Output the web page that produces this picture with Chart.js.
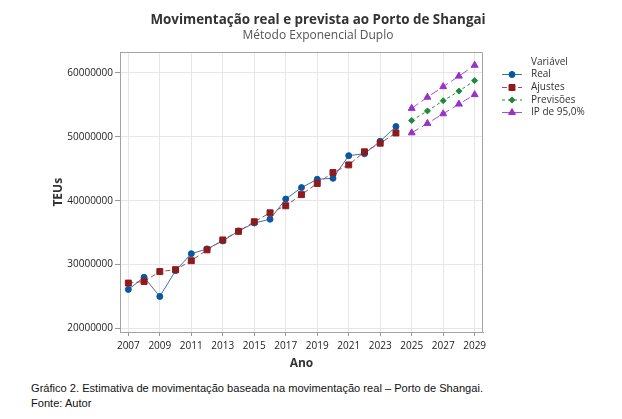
<!DOCTYPE html>
<html><head><meta charset="utf-8">
<script src="https://cdn.jsdelivr.net/npm/chart.js@4.4.1/dist/chart.umd.min.js"></script>
<style>
html,body{margin:0;padding:0;background:#fff;}
#wrap{position:relative;width:622px;height:419px;overflow:hidden;background:#fff;}
#c{position:absolute;left:0;top:0;}
#cap{position:absolute;left:31px;top:381px;font-family:'Liberation Sans',Arial,sans-serif;font-size:11.1px;line-height:15px;color:#111;white-space:nowrap;}
</style></head><body>
<div id="wrap"><canvas id="c" width="622" height="372"></canvas>
<div id="cap">Gráfico 2. Estimativa de movimentação baseada na movimentação real – Porto de Shangai.<br>Fonte: Autor</div></div>
<script>
const yearsObs = [2007,2008,2009,2010,2011,2012,2013,2014,2015,2016,2017,2018,2019,2020,2021,2022,2023,2024];
const yearsFc = [2025,2026,2027,2028,2029];
const real = [26100000,28000000,25000000,29050000,31700000,32450000,33700000,35250000,36500000,37100000,40250000,42050000,43350000,43500000,47050000,47350000,49300000,51600000];
const ajustes = [27100000,27350000,28900000,29200000,30600000,32300000,33850000,35200000,36700000,38100000,39200000,40950000,42700000,44400000,45600000,47650000,49000000,50600000];
const previsoes = [52550000,54050000,55650000,57150000,58800000];
const ipUpper = [54450000,56200000,57850000,59500000,61200000];
const ipLower = [50620000,52100000,53600000,55120000,56600000];
const yTicks = [20000000,30000000,40000000,50000000,60000000];
const xTicks = [2007,2009,2011,2013,2015,2017,2019,2021,2023,2025,2027,2029];
const seriesNames = ['Real','Ajustes','Previsões','IP de 95,0%'];

const FONT = "'Open Sans', 'Noto Sans', sans-serif";
const pts = (xs, ys) => xs.map((x, i) => ({x: x, y: ys[i]}));

const cReal = '#0b56a3', cRealLine = '#3d70b0';
const cAj = '#8c1b1b', cAjLine = '#b04848';
const cPrev = '#1f8a3b';
const cIP = '#9a30c8', cIPLine = '#a64fd0';

const datasets = [
  {label: seriesNames[0], data: pts(yearsObs, real), borderColor: cRealLine, borderWidth: 1, pointStyle: 'circle', pointRadius: 3, pointBorderWidth: 1, pointBackgroundColor: cReal, pointBorderColor: cReal, order: 2},
  {label: seriesNames[1], data: pts(yearsObs, ajustes), borderColor: cAjLine, borderWidth: 1, borderDash: [5,3], pointStyle: 'rect', pointRadius: 4.2, pointBorderWidth: 1, pointBackgroundColor: cAj, pointBorderColor: cAj, order: 1},
  {label: seriesNames[2], data: pts(yearsFc, previsoes), borderColor: cPrev, borderWidth: 1, borderDash: [3,3], pointStyle: 'rectRot', pointRadius: 3, pointBorderWidth: 1, pointBackgroundColor: cPrev, pointBorderColor: cPrev, order: 0},
  {label: seriesNames[3], data: pts(yearsFc, ipUpper), borderColor: cIPLine, borderWidth: 1, borderDash: [8,4], pointStyle: 'triangle', pointRadius: 4, pointBorderWidth: 1, pointBackgroundColor: cIP, pointBorderColor: cIP, order: 0},
  {label: seriesNames[3] + ' inf', data: pts(yearsFc, ipLower), borderColor: cIPLine, borderWidth: 1, borderDash: [8,4], pointStyle: 'triangle', pointRadius: 4, pointBorderWidth: 1, pointBackgroundColor: cIP, pointBorderColor: cIP, order: 0}
];
datasets.forEach(d => { d.yAxisID = 'y'; d.xAxisID = 'x'; d.fill = false; d.tension = 0; });

function drawMarker(ctx, style, x, y, r, color) {
  ctx.save();
  ctx.fillStyle = color; ctx.strokeStyle = color; ctx.lineWidth = 1; ctx.setLineDash([]);
  ctx.beginPath();
  if (style === 'circle') { ctx.arc(x, y, r, 0, Math.PI * 2); }
  else if (style === 'rect') { const s = r * Math.SQRT1_2; ctx.rect(x - s, y - s, 2 * s, 2 * s); }
  else if (style === 'rectRot') { ctx.moveTo(x - r, y); ctx.lineTo(x, y - r); ctx.lineTo(x + r, y); ctx.lineTo(x, y + r); ctx.closePath(); }
  else if (style === 'triangle') {
    const a = -Math.PI / 2;
    ctx.moveTo(x + Math.cos(a) * r, y + Math.sin(a) * r);
    ctx.lineTo(x + Math.cos(a + 2 * Math.PI / 3) * r, y + Math.sin(a + 2 * Math.PI / 3) * r);
    ctx.lineTo(x + Math.cos(a + 4 * Math.PI / 3) * r, y + Math.sin(a + 4 * Math.PI / 3) * r);
    ctx.closePath();
  }
  ctx.fill(); ctx.stroke();
  ctx.restore();
}

const framePlugin = {
  id: 'frame',
  beforeDatasetsDraw(chart) {
    const {ctx, chartArea: a} = chart;
    ctx.save();
    ctx.strokeStyle = '#a3a3a3'; ctx.lineWidth = 1;
    ctx.beginPath();
    ctx.moveTo(Math.round(a.left) + 0.5, Math.round(a.top) + 0.5);
    ctx.lineTo(Math.round(a.right) - 0.5, Math.round(a.top) + 0.5);
    ctx.lineTo(Math.round(a.right) - 0.5, Math.round(a.bottom));
    ctx.stroke();
    ctx.restore();
  }
};

const legendPlugin = {
  id: 'customLegend',
  afterDraw(chart) {
    const {ctx} = chart;
    const ds = chart.data.datasets;
    const x0 = 502, x1 = 522, xm = 512, xt = 531;
    const rows = [74, 87, 99.5, 112];
    ctx.save();
    ctx.font = '10px ' + FONT;
    ctx.fillStyle = '#333';
    ctx.textBaseline = 'middle';
    ctx.textAlign = 'left';
    ctx.fillText('Variável', xt, 62);
    for (let i = 0; i < 4; i++) {
      const d = ds[i];
      const y = rows[i];
      ctx.save();
      ctx.strokeStyle = d.borderColor; ctx.lineWidth = 1;
      ctx.setLineDash(d.borderDash || []);
      ctx.beginPath(); ctx.moveTo(x0, y + 0.5); ctx.lineTo(x1, y + 0.5); ctx.stroke();
      ctx.restore();
      drawMarker(ctx, d.pointStyle, xm, y + 0.5, d.pointRadius, d.pointBackgroundColor);
      ctx.fillStyle = '#333';
      ctx.fillText(d.label, xt, y + 0.5);
    }
    ctx.restore();
  }
};

new Chart(document.getElementById('c'), {
  type: 'line',
  data: {datasets: datasets},
  plugins: [framePlugin, legendPlugin],
  options: {
    responsive: false,
    animation: false,
    devicePixelRatio: 1,
    layout: {padding: {left: 14, right: 0, top: 0, bottom: 0}},
    plugins: {
      legend: {display: false},
      tooltip: {enabled: false},
      title: {display: true, text: 'Movimentação real e prevista ao Porto de Shangai', color: '#333', font: {family: FONT, size: 13.4, weight: 'bold'}, padding: {top: 12, bottom: 0}},
      subtitle: {display: true, text: 'Método Exponencial Duplo', color: '#555', font: {family: FONT, size: 12, weight: 'normal'}, padding: {top: 0, bottom: 10}}
    },
    scales: {
      x: {
        type: 'linear', position: 'bottom', min: 2006.47, max: 2029.53,
        afterBuildTicks: s => { s.ticks = xTicks.map(v => ({value: v})); },
        afterFit: s => { s.height = 40; },
        grid: {color: '#e6e6e6', lineWidth: 1, drawTicks: true, tickLength: 4, tickColor: '#9a9a9a'},
        border: {display: true, color: '#a3a3a3', width: 1},
        ticks: {color: '#222', font: {family: FONT, size: 10}, padding: 4, maxRotation: 0, autoSkip: false, callback: v => String(v)},
        title: {display: true, text: 'Ano', color: '#333', font: {family: FONT, size: 12, weight: 'bold'}, padding: {top: 0, bottom: 1.5}}
      },
      y: {
        type: 'linear', position: 'left', min: 19440000, max: 63200000,
        afterBuildTicks: s => { s.ticks = yTicks.map(v => ({value: v})); },
        afterFit: s => { s.width = 106; },
        grid: {color: '#e6e6e6', lineWidth: 1, drawTicks: true, tickLength: 5, tickColor: '#9a9a9a'},
        border: {display: true, color: '#a3a3a3', width: 1},
        ticks: {color: '#222', font: {family: FONT, size: 10}, padding: 2, callback: v => String(v)},
        title: {display: true, text: 'TEUs', color: '#333', font: {family: FONT, size: 12, weight: 'bold'}, padding: {top: 37.8, bottom: 0}}
      },
      yR: {
        type: 'linear', position: 'right', display: true,
        afterFit: s => { s.width = 139; },
        grid: {display: false, drawTicks: false}, border: {display: false},
        ticks: {display: false}, title: {display: false}
      }
    }
  }
});
</script>
</body></html>
